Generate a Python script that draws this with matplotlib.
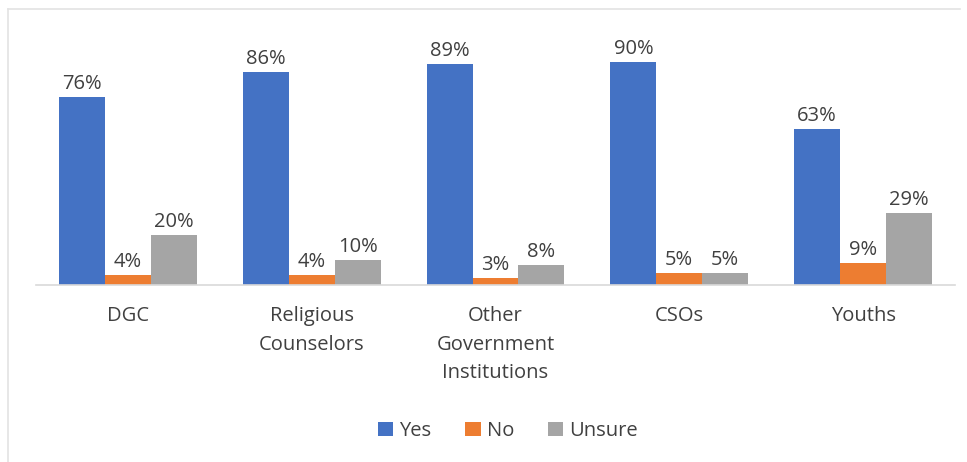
import matplotlib as mpl
mpl.use('Agg')
import matplotlib.pyplot as plt
import numpy as np
from matplotlib.lines import Line2D

mpl.rcParams['font.family'] = ['Open Sans', 'DejaVu Sans']

categories = ['DGC', 'Religious\nCounselors', 'Other\nGovernment\nInstitutions', 'CSOs', 'Youths']
yes = [76, 86, 89, 90, 63]
no = [4, 4, 3, 5, 9]
unsure = [20, 10, 8, 5, 29]
series_names = ['Yes', 'No', 'Unsure']
colors = ['#4472C4', '#ED7D31', '#A5A5A5']

fig = plt.figure(figsize=(9.67, 4.62), dpi=100)
ax = fig.add_axes([36/967, 1-285/462, 919/967, 248/462])

x = np.arange(len(categories))
w = 0.25
for i, (vals, name) in enumerate(zip([yes, no, unsure], series_names)):
    bars = ax.bar(x + (i-1)*w, vals, width=w, color=colors[i], label=name)
    for b, v in zip(bars, vals):
        ax.text(b.get_x() + b.get_width()/2, v + 1.2, '%d%%' % v,
                ha='center', va='bottom', fontsize=14.5, color='#404040')

ax.set_xlim(-0.5, 4.5)
ax.set_ylim(0, 100)
ax.set_yticks([])
for s in ['top', 'right', 'left']:
    ax.spines[s].set_visible(False)
ax.spines['bottom'].set_color('#D9D9D9')
ax.spines['bottom'].set_linewidth(1.2)
ax.set_xticks(x)
ax.set_xticklabels(categories, fontsize=14.5, color='#404040', linespacing=1.58)
ax.tick_params(axis='x', length=0, pad=15)

ax.legend(loc='center', bbox_to_anchor=(508/967, 1-431/462),
          bbox_transform=fig.transFigure, ncol=3, frameon=False,
          fontsize=14.5, handlelength=0.75, handleheight=0.75,
          handletextpad=0.3, columnspacing=1.7, labelcolor='#404040')

# chart frame (top and left edges visible in the reference)
fig.add_artist(Line2D([8/967, 960/967], [1-9/462, 1-9/462], color='#E3E3E3', lw=1.2))
fig.add_artist(Line2D([8/967, 8/967], [1-9/462, 0], color='#E3E3E3', lw=1.2))

fig.savefig('out.png', dpi=100)
